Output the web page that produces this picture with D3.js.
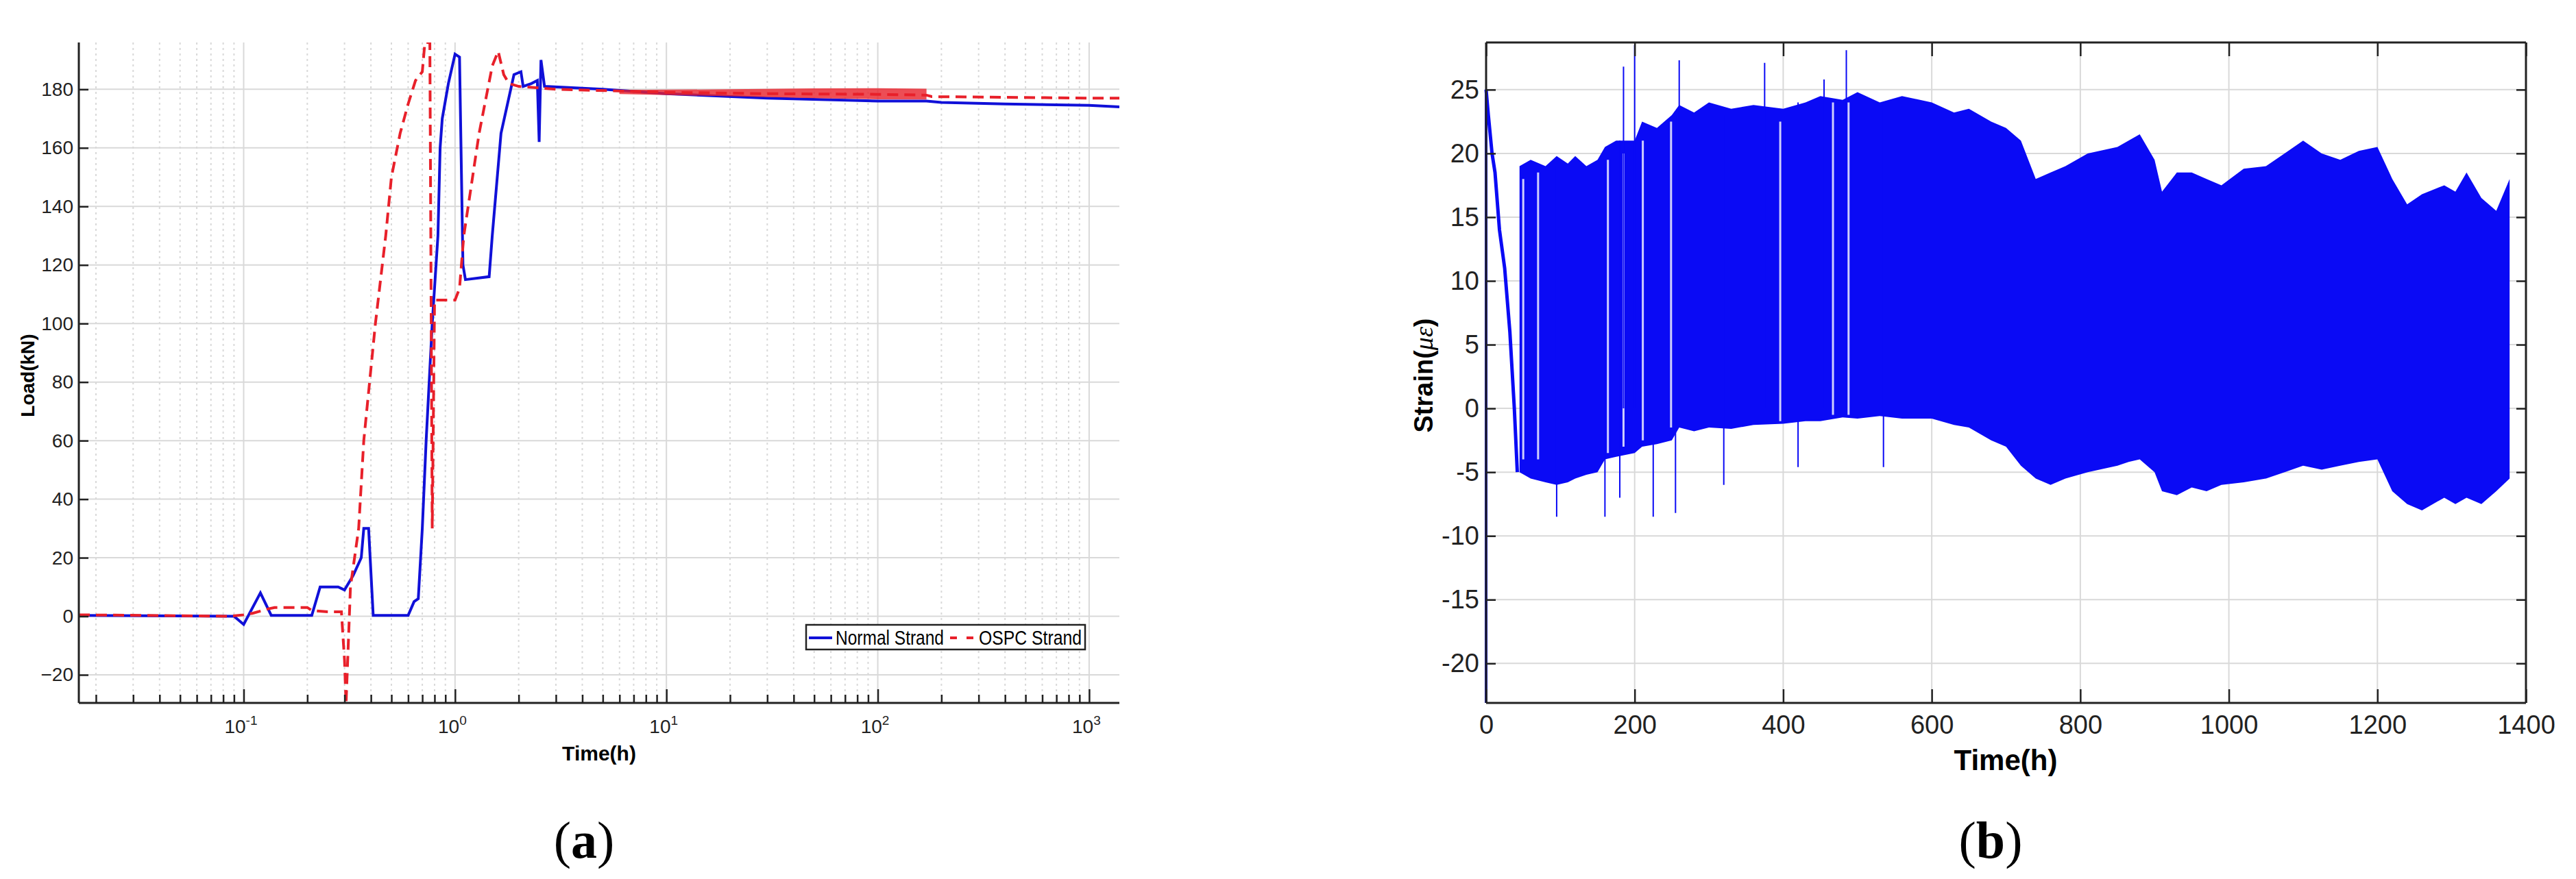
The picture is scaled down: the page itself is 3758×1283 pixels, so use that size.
<!DOCTYPE html>
<html>
<head>
<meta charset="utf-8">
<script src="https://cdn.jsdelivr.net/npm/d3@7"></script>
<style>
  body { margin: 0; background: #fff; }
</style>
</head>
<body>
<svg id="chart" width="3758" height="1283" font-family="Liberation Sans, Arial, sans-serif"></svg>
<script>
// ---- panel (a): load vs time (log) ----
const normalT = [0.0166, 0.09, 0.1, 0.12, 0.135, 0.21, 0.23, 0.28, 0.3, 0.33, 0.36, 0.37, 0.39, 0.41, 0.6, 0.64, 0.67, 0.7, 0.73, 0.78, 0.83, 0.85, 0.87, 0.93, 1.0, 1.05, 1.09, 1.12, 1.45, 1.5, 1.65, 1.9, 2.05, 2.1, 2.3, 2.45, 2.5, 2.55, 2.65, 5, 10, 30, 100, 170, 200, 400, 1000, 1390];
const normalLoad = [0.3, 0, -2.8, 8, 0.3, 0.3, 10, 10, 9, 14, 20, 30, 30, 0.3, 0.3, 5, 6, 30, 60, 100, 130, 160, 170, 182, 192, 191, 120, 115, 116, 130, 165, 185, 186, 181, 182, 183, 162, 190, 181, 180, 178.5, 177, 176, 176, 175.5, 175, 174.5, 174];
const ospcT = [0.0166, 0.085, 0.1, 0.11, 0.13, 0.14, 0.2, 0.21, 0.25, 0.29, 0.3, 0.305, 0.32, 0.35, 0.37, 0.42, 0.47, 0.5, 0.55, 0.6, 0.65, 0.7, 0.72, 0.76, 0.78, 0.8, 1.0, 1.05, 1.1, 1.3, 1.5, 1.6, 1.7, 1.8, 2.0, 3, 10, 30, 100, 170, 180, 1000, 1390];
const ospcLoad = [0.5, 0, 0.5, 1, 2.5, 3, 3, 2, 1.5, 1.5, -15, -30, 10, 30, 60, 100, 130, 150, 165, 175, 183, 186, 196, 196, 30, 108, 108, 112, 130, 165, 188, 193, 185, 182, 181, 180, 179, 178.5, 178.3, 178, 177.5, 177, 177];
// scatter band of the OSPC record between 10 h and 170 h
const ospcBandT = [6, 20, 50, 100, 170];
const ospcBandLow = [178.4, 177.6, 177.0, 176.6, 176.5];
const ospcBandHigh = [179.8, 180.0, 180.3, 180.4, 180.2];
const loadTicks = [-20, 0, 20, 40, 60, 80, 100, 120, 140, 160, 180];
const decadeTicks = [-1, 0, 1, 2, 3];

// ---- panel (b): strain vs time ----
const startT = [0, 3, 8, 12, 18, 25, 32, 38, 42];
const startStrain = [25, 23, 20, 18.5, 14, 11, 6, 0, -5];
const envT = [45, 60, 80, 95, 110, 120, 135, 150, 160, 175, 200, 210, 230, 250, 260, 280, 300, 330, 360, 400, 430, 450, 480, 500, 530, 560, 600, 630, 650, 680, 700, 720, 740, 760, 780, 810, 850, 865, 880, 900, 910, 930, 950, 970, 990, 1020, 1050, 1075, 1100, 1125, 1150, 1175, 1200, 1220, 1240, 1260, 1290, 1305, 1320, 1340, 1360, 1378];
const envHigh = [19, 19.5, 19, 19.8, 19.2, 19.8, 19, 19.5, 20.5, 21, 21, 22.5, 22, 23, 23.8, 23.2, 24, 23.5, 23.8, 23.5, 24, 24.5, 24.2, 24.8, 24, 24.5, 24, 23.2, 23.5, 22.5, 22, 21, 18, 18.5, 19, 20, 20.5, 21, 21.5, 19.5, 17, 18.5, 18.5, 18, 17.5, 18.8, 19, 20, 21, 20, 19.5, 20.2, 20.5, 18, 16, 16.8, 17.5, 17, 18.5, 16.5, 15.5, 18];
const envLow = [-5, -5.5, -5.8, -6, -5.8, -5.5, -5.2, -5, -4, -3.8, -3.5, -3, -2.8, -2.5, -1.5, -1.8, -1.5, -1.6, -1.3, -1.2, -1, -1, -0.7, -0.8, -0.6, -0.8, -0.8, -1.3, -1.5, -2.5, -3, -4.5, -5.5, -6, -5.5, -5, -4.5, -4.2, -4, -5, -6.5, -6.8, -6.2, -6.5, -6, -5.8, -5.5, -5, -4.5, -4.8, -4.5, -4.2, -4, -6.5, -7.5, -8, -7, -7.5, -7, -7.5, -6.5, -5.5];
const spikeT = [160, 180, 185, 200, 225, 255, 260, 320, 375, 420, 455, 485, 535, 95];
const spikeLow = [-8.5, -7, 0, 0, -8.5, -8.2, 0, -6, 0, -4.6, 0, 0, -4.6, -8.5];
const spikeHigh = [19, 21, 26.8, 28.5, 22, 23, 27.3, 23, 27.1, 24, 25.8, 28.1, 24, 19];
const gapT = [50, 70, 164, 185, 211, 249, 396, 467, 488];
const gapLow = [-4, -4, -3.5, -3, -2.5, -1.5, -1, -0.5, -0.5];
const gapHigh = [18, 18.5, 19.5, 20, 21, 22.5, 22.5, 24, 24];
const strainTicks = [-20, -15, -10, -5, 0, 5, 10, 15, 20, 25];
const hourTicks = [0, 200, 400, 600, 800, 1000, 1200, 1400];

const svg = d3.select('#chart');
const yTop = 62, yBottom = 1026;
const gridColor = '#d9d9d9';

// ================= panel (a) =================
const xa = d3.scaleLog().domain([0.0166, 1390]).range([115, 1633]);
const ya = d3.scaleLinear().domain([-29.6, 196]).range([yBottom, yTop]);
const ga = svg.append('g');
const isDecade = d => decadeTicks.includes(Math.round(Math.log10(d) * 1000) / 1000);

const minorVals = [];
for (let e = -2; e <= 3; e++) for (let m = 1; m <= 9; m++) {
    const v = m * Math.pow(10, e);
    if (v >= 0.0166 && v <= 1390) minorVals.push(v);
}
ga.append('g').selectAll('line').data(minorVals).join('line')
    .attr('x1', d => xa(d)).attr('x2', d => xa(d)).attr('y1', yTop).attr('y2', yBottom)
    .attr('stroke', gridColor).attr('stroke-width', 2)
    .attr('stroke-dasharray', d => isDecade(d) ? null : '3,5');
ga.append('g').selectAll('line').data(loadTicks).join('line')
    .attr('x1', 115).attr('x2', 1633).attr('y1', d => ya(d)).attr('y2', d => ya(d))
    .attr('stroke', gridColor).attr('stroke-width', 2);

svg.append('clipPath').attr('id', 'clipA').append('rect')
    .attr('x', 115).attr('y', yTop).attr('width', 1518).attr('height', yBottom - yTop);
const pa = ga.append('g').attr('clip-path', 'url(#clipA)');

const band = d3.area().x((d, i) => xa(ospcBandT[i])).y0((d, i) => ya(ospcBandLow[i])).y1((d, i) => ya(ospcBandHigh[i]));

const lineA = (ts, vs) => d3.line().x((d, i) => xa(ts[i])).y((d, i) => ya(vs[i]))(ts);
pa.append('path').attr('d', lineA(normalT, normalLoad)).attr('fill', 'none')
    .attr('stroke', '#1010d8').attr('stroke-width', 4);
pa.append('path').datum(ospcBandT).attr('d', band).attr('fill', '#e8202a').attr('opacity', 0.8);
pa.append('path').attr('d', lineA(ospcT, ospcLoad)).attr('fill', 'none')
    .attr('stroke', '#e8202a').attr('stroke-width', 4).attr('stroke-dasharray', '16,9');

// axes
const axL = ga.append('g').attr('transform', 'translate(115,0)')
    .call(d3.axisLeft(ya).tickValues(loadTicks).tickSize(-14).tickPadding(8).tickFormat(d3.format('d')));
const axB = ga.append('g').attr('transform', `translate(0,${yBottom})`)
    .call(d3.axisBottom(xa).tickValues(minorVals).tickSize(-12).tickFormat(''));
axB.selectAll('.tick line').filter(d => isDecade(d)).attr('y2', -20);
[axL, axB].forEach(a => {
    a.select('.domain').attr('stroke', '#222').attr('stroke-width', 3);
    a.selectAll('.tick line').attr('stroke', '#222').attr('stroke-width', 2.5);
    a.selectAll('text').attr('font-family', null).attr('font-size', 28).attr('fill', '#222');
});
axL.attr('font-family', null);
axB.attr('font-family', null);
axL.select('.domain').attr('d', `M0,${yTop}V${yBottom}`);
axB.select('.domain').attr('d', 'M115,0H1633');

const dec = ga.append('g').selectAll('text').data(decadeTicks).join('text')
    .attr('x', d => xa(Math.pow(10, d)) - 4).attr('y', 1070)
    .attr('text-anchor', 'middle').attr('font-size', 28).attr('fill', '#222');
dec.append('tspan').text('10');
dec.append('tspan').attr('dy', -12).attr('font-size', 19).text(d => d);

ga.append('text').attr('x', 874).attr('y', 1110).attr('text-anchor', 'middle')
    .attr('font-size', 30).attr('font-weight', 'bold').text('Time(h)');
ga.append('text').attr('transform', 'translate(50,548) rotate(-90)').attr('text-anchor', 'middle')
    .attr('font-size', 28).attr('font-weight', 'bold').text('Load(kN)');

// legend
const lg = ga.append('g');
lg.append('rect').attr('x', 1176).attr('y', 912).attr('width', 407).attr('height', 36)
    .attr('fill', '#fff').attr('stroke', '#222').attr('stroke-width', 2.5);
lg.append('line').attr('x1', 1180).attr('x2', 1214).attr('y1', 931).attr('y2', 931)
    .attr('stroke', '#1010d8').attr('stroke-width', 4);
lg.append('text').attr('x', 1219).attr('y', 941).attr('font-size', 29)
    .attr('textLength', 158).attr('lengthAdjust', 'spacingAndGlyphs').text('Normal Strand');
lg.append('line').attr('x1', 1386).attr('x2', 1424).attr('y1', 931).attr('y2', 931)
    .attr('stroke', '#e8202a').attr('stroke-width', 4).attr('stroke-dasharray', '10,14');
lg.append('text').attr('x', 1428).attr('y', 941).attr('font-size', 29)
    .attr('textLength', 150).attr('lengthAdjust', 'spacingAndGlyphs').text('OSPC Strand');

ga.append('text').attr('x', 852).attr('y', 1252).attr('text-anchor', 'middle')
    .attr('font-family', 'Liberation Serif').attr('font-size', 76)
    .html('(<tspan font-weight="bold">a</tspan>)');

// ================= panel (b) =================
const xb = d3.scaleLinear().domain([0, 1400]).range([2168, 3685]);
const yb = d3.scaleLinear().domain([-23.1, 28.7]).range([yBottom, yTop]);
const gb = svg.append('g');

gb.append('g').selectAll('line').data(hourTicks.slice(1, -1)).join('line')
    .attr('x1', d => xb(d)).attr('x2', d => xb(d)).attr('y1', yTop).attr('y2', yBottom)
    .attr('stroke', gridColor).attr('stroke-width', 2);
gb.append('g').selectAll('line').data(strainTicks).join('line')
    .attr('x1', 2168).attr('x2', 3685).attr('y1', d => yb(d)).attr('y2', d => yb(d))
    .attr('stroke', gridColor).attr('stroke-width', 2);

const blue = '#0a0af5';
const env = d3.area().x((d, i) => xb(envT[i])).y0((d, i) => yb(envLow[i])).y1((d, i) => yb(envHigh[i]));
gb.append('path').datum(envT).attr('d', env).attr('fill', blue);
gb.append('g').selectAll('line').data(gapT).join('line')
    .attr('x1', d => xb(d)).attr('x2', d => xb(d))
    .attr('y1', (d, i) => yb(gapLow[i])).attr('y2', (d, i) => yb(gapHigh[i]))
    .attr('stroke', '#fff').attr('stroke-width', 3).attr('opacity', 0.8);
gb.append('path').attr('d', d3.line().x((d, i) => xb(startT[i])).y((d, i) => yb(startStrain[i]))(startT))
    .attr('fill', 'none').attr('stroke', blue).attr('stroke-width', 5);
gb.append('g').selectAll('line').data(spikeT).join('line')
    .attr('x1', d => xb(d)).attr('x2', d => xb(d))
    .attr('y1', (d, i) => yb(spikeLow[i])).attr('y2', (d, i) => yb(spikeHigh[i]))
    .attr('stroke', blue).attr('stroke-width', 2);
gb.append('line').attr('x1', xb(0)).attr('x2', xb(0)).attr('y1', yb(25)).attr('y2', yBottom)
    .attr('stroke', blue).attr('stroke-width', 4);

const bL = gb.append('g').attr('transform', 'translate(2168,0)')
    .call(d3.axisLeft(yb).tickValues(strainTicks).tickSize(-14).tickPadding(10));
const bR = gb.append('g').attr('transform', 'translate(3685,0)')
    .call(d3.axisRight(yb).tickValues(strainTicks).tickSize(-14).tickFormat(''));
const bB = gb.append('g').attr('transform', `translate(0,${yBottom})`)
    .call(d3.axisBottom(xb).tickValues(hourTicks).tickSize(-20).tickPadding(18).tickFormat(d3.format('d')));
const bT = gb.append('g').attr('transform', `translate(0,${yTop})`)
    .call(d3.axisTop(xb).tickValues(hourTicks).tickSize(-20).tickFormat(''));
[bL, bR, bB, bT].forEach(a => {
    a.attr('font-family', null);
    a.select('.domain').attr('stroke', '#222').attr('stroke-width', 3);
    a.selectAll('.tick line').attr('stroke', '#222').attr('stroke-width', 2.5);
    a.selectAll('text').attr('font-size', 38).attr('fill', '#222');
});
bL.select('.domain').attr('d', `M0,${yTop}V${yBottom}`);
bR.select('.domain').attr('d', `M0,${yTop}V${yBottom}`);
bB.select('.domain').attr('d', 'M2168,0H3685');
bT.select('.domain').attr('d', 'M2168,0H3685');
bL.selectAll('text').text(d => d < 0 ? '-' + Math.abs(d) : d);

gb.append('text').attr('x', 2926).attr('y', 1124).attr('text-anchor', 'middle')
    .attr('font-size', 42).attr('font-weight', 'bold').text('Time(h)');
gb.append('text').attr('transform', 'translate(2090,548) rotate(-90)').attr('text-anchor', 'middle')
    .attr('font-size', 38).attr('font-weight', 'bold')
    .html('Strain(<tspan font-family="Liberation Serif" font-style="italic" font-weight="normal">με</tspan>)');

gb.append('text').attr('x', 2904).attr('y', 1252).attr('text-anchor', 'middle')
    .attr('font-family', 'Liberation Serif').attr('font-size', 76)
    .html('(<tspan font-weight="bold">b</tspan>)');
</script>
</body>
</html>
